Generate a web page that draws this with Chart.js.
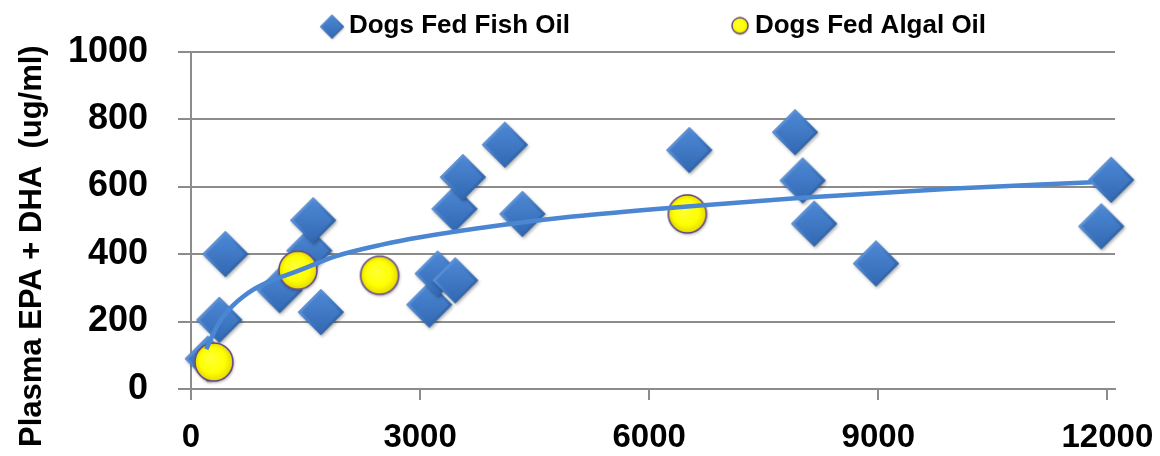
<!DOCTYPE html>
<html>
<head>
<meta charset="utf-8">
<title>Plasma EPA + DHA</title>
<script src="https://cdn.jsdelivr.net/npm/chart.js@4.4.1/dist/chart.umd.min.js"></script>
<style>
  html, body { margin: 0; padding: 0; background: #ffffff; }
  #wrap { width: 1160px; height: 456px; }
</style>
</head>
<body>
<div id="wrap"><canvas id="chart" width="1160" height="456"></canvas></div>
<script>
// Dose (x) and plasma EPA + DHA (y, ug/ml) for each dog
const fishX = [220, 370, 450, 1160, 1550, 1600, 1700, 3120, 3230, 3460, 3450, 3560, 4110, 4340, 6525, 7910, 8010, 8160, 8970, 11920, 12050];
const fishY = [90, 205, 400, 293, 410, 500, 228, 250, 342, 322, 534, 628, 724, 519, 708, 761, 618, 490, 372, 482, 620];
const algalX = [300, 1400, 2470, 6500];
const algalY = [80, 352, 337, 519];

// Logarithmic trend line, sampled along the curve
const trendX = [200, 350, 500, 750, 1000, 1400, 1900, 2500, 3000, 4000, 5000, 6500, 8000, 10000, 11800];
const trendY = [118, 190, 236, 285, 316, 350, 394, 428, 450, 484, 511, 541, 567, 594, 613];

// Axis ticks
const xTicks = [0, 3000, 6000, 9000, 12000];
const yTicks = [0, 200, 400, 600, 800, 1000];

const fishLabel = 'Dogs Fed Fish Oil';
const algalLabel = 'Dogs Fed Algal Oil';
const yTitle = 'Plasma EPA + DHA  (ug/ml)';

const FONT = "'Liberation Sans', Arial, sans-serif";
const GRID = '#8c8c8c';

function points(xs, ys) {
  return xs.map((x, i) => ({ x: x, y: ys[i] }));
}

// Bevelled blue diamond marker; dx/dy move the shape inside its canvas
function diamondImage(r, dx, dy) {
  const pad = 5;
  const w = 2 * Math.ceil(Math.abs(dx) + r + pad);
  const h = 2 * Math.ceil(Math.abs(dy) + r + pad);
  const c = document.createElement('canvas');
  c.width = w; c.height = h;
  const g = c.getContext('2d');
  const cx = w / 2 + dx, cy = h / 2 + dy;
  const path = (rr) => {
    g.beginPath();
    g.moveTo(cx, cy - rr); g.lineTo(cx + rr, cy);
    g.lineTo(cx, cy + rr); g.lineTo(cx - rr, cy);
    g.closePath();
  };
  g.save();
  g.shadowColor = 'rgba(0,0,0,0.35)';
  g.shadowBlur = Math.max(2, r * 0.15);
  g.shadowOffsetX = r * 0.05;
  g.shadowOffsetY = r * 0.08;
  path(r); g.fillStyle = '#2c5fa6'; g.fill();
  g.restore();
  const edge = g.createLinearGradient(cx - r, cy - r, cx + r, cy + r);
  edge.addColorStop(0, '#79a8e6');
  edge.addColorStop(0.5, '#3f7ac6');
  edge.addColorStop(1, '#24528f');
  path(r); g.fillStyle = edge; g.fill();
  const face = g.createLinearGradient(cx, cy - r, cx, cy + r);
  face.addColorStop(0, '#4f8ad6');
  face.addColorStop(1, '#3268b4');
  path(r * 0.84); g.fillStyle = face; g.fill();
  return c;
}

// Yellow disc with a purple rim
function discImage(r, dx, dy) {
  const pad = 5;
  const w = 2 * Math.ceil(Math.abs(dx) + r + pad);
  const h = 2 * Math.ceil(Math.abs(dy) + r + pad);
  const c = document.createElement('canvas');
  c.width = w; c.height = h;
  const g = c.getContext('2d');
  const cx = w / 2 + dx, cy = h / 2 + dy;
  g.save();
  g.shadowColor = 'rgba(0,0,0,0.3)';
  g.shadowBlur = Math.max(2, r * 0.15);
  g.shadowOffsetX = r * 0.04;
  g.shadowOffsetY = r * 0.08;
  g.beginPath(); g.arc(cx, cy, r, 0, Math.PI * 2);
  g.fillStyle = '#f2ec00'; g.fill();
  g.restore();
  const fill = g.createRadialGradient(cx - r * 0.2, cy - r * 0.25, 0, cx, cy, r);
  fill.addColorStop(0, '#ffff3a');
  fill.addColorStop(0.65, '#ffff00');
  fill.addColorStop(1, '#e3d800');
  g.beginPath(); g.arc(cx, cy, r - 0.5, 0, Math.PI * 2);
  g.fillStyle = fill; g.fill();
  g.lineWidth = Math.max(1.3, r * 0.08);
  g.strokeStyle = '#5f428c';
  g.stroke();
  return c;
}

const fishMarker = diamondImage(23, 0, 0);
const algalMarker = discImage(19.5, 0, 0);
const fishKey = diamondImage(12, 82, 1);
const algalKey = discImage(8.5, 84, 0);

// Fixed legend band height so the plot starts just below it
const legendBand = {
  id: 'legendBand',
  afterInit(chart) {
    const legend = chart.legend;
    if (!legend || legend._bandPatched) return;
    const fit = legend.fit;
    legend.fit = function () {
      fit.call(this);
      this.height = 39;
    };
    legend._bandPatched = true;
  }
};

const tickSetter = (values) => (scale) => {
  scale.ticks = values.map((v) => ({ value: v }));
};
const plainNumber = (v) => String(v);

new Chart(document.getElementById('chart'), {
  type: 'scatter',
  data: {
    datasets: [
      {
        label: fishLabel,
        data: points(fishX, fishY),
        pointStyle: fishMarker,
        pointRadius: 23,
        legendIcon: fishKey,
        clip: false,
        order: 2
      },
      {
        label: algalLabel,
        data: points(algalX, algalY),
        pointStyle: algalMarker,
        pointRadius: 19,
        legendIcon: algalKey,
        clip: false,
        order: 1
      },
      {
        label: 'Trend',
        data: points(trendX, trendY),
        showLine: true,
        pointRadius: 0,
        borderColor: '#4a86d1',
        borderWidth: 4.5,
        tension: 0.4,
        cubicInterpolationMode: 'monotone',
        order: 0
      }
    ]
  },
  options: {
    responsive: false,
    animation: false,
    events: [],
    layout: { padding: { left: 35, right: 45, top: 11, bottom: 0 } },
    scales: {
      x: {
        type: 'linear',
        min: 0,
        max: 12100,
        afterBuildTicks: tickSetter(xTicks),
        afterFit: (s) => {
          s.height = 67;
          s.paddingLeft = 0;
          s.paddingRight = 0;
        },
        grid: { drawOnChartArea: false, drawTicks: true, tickLength: 11, color: GRID, lineWidth: 2 },
        border: { display: true, color: GRID, width: 2 },
        ticks: {
          padding: 18,
          color: '#000000',
          maxRotation: 0,
          autoSkip: false,
          callback: plainNumber,
          font: { family: FONT, size: 33, weight: 'bold' }
        }
      },
      y: {
        type: 'linear',
        min: 0,
        max: 1000,
        afterBuildTicks: tickSetter(yTicks),
        afterFit: (s) => { s.width = 156; },
        grid: { color: GRID, lineWidth: 2, tickLength: 13 },
        border: { display: true, color: GRID, width: 2 },
        ticks: {
          padding: 30,
          color: '#000000',
          callback: plainNumber,
          font: { family: FONT, size: 36, weight: 'bold' }
        },
        title: {
          display: true,
          text: yTitle + '      ',
          color: '#000000',
          font: { family: FONT, size: 31, weight: 'bold' },
          padding: { top: -21, bottom: 0 }
        }
      }
    },
    plugins: {
      tooltip: { enabled: false },
      legend: {
        position: 'top',
        align: 'center',
        labels: {
          usePointStyle: true,
          pointStyleWidth: 172,
          padding: 0,
          color: '#000000',
          font: { family: FONT, size: 26, weight: 'bold' },
          generateLabels: (chart) => chart.data.datasets
            .map((ds, i) => ({
              text: ds.label,
              pointStyle: ds.legendIcon,
              fillStyle: 'rgba(0,0,0,0)',
              strokeStyle: 'rgba(0,0,0,0)',
              lineWidth: 0,
              hidden: false,
              fontColor: '#000000',
              datasetIndex: i
            }))
            .filter((item) => item.pointStyle)
        }
      }
    }
  },
  plugins: [legendBand]
});
</script>
</body>
</html>
